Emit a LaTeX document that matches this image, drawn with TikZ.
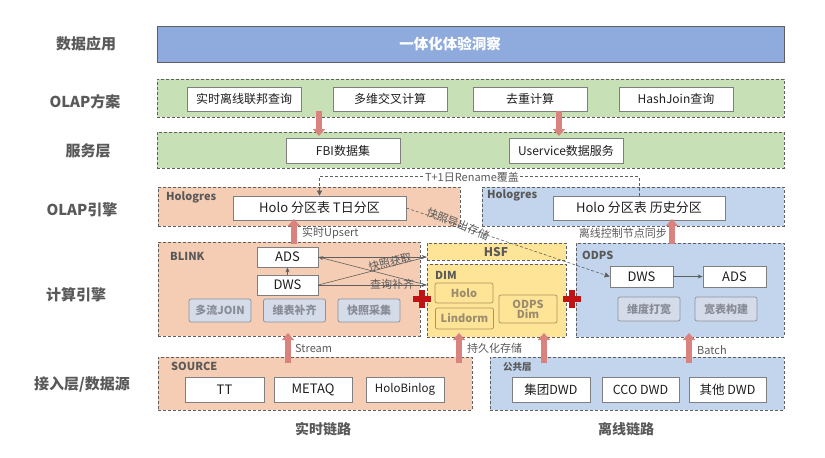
\documentclass[tikz,border=0pt]{standalone}
\usepackage{fontspec}
\setmainfont{Noto Sans CJK SC}
\usetikzlibrary{arrows.meta}
\definecolor{appblue}{RGB}{143,170,220}
\definecolor{bandgreen}{RGB}{200,224,182}
\definecolor{bandorange}{RGB}{245,205,180}
\definecolor{bandblue}{RGB}{194,213,236}
\definecolor{bandyellow}{RGB}{254,228,150}
\definecolor{dashgray}{RGB}{95,95,95}
\definecolor{boxgray}{RGB}{127,127,127}
\definecolor{labgray}{RGB}{89,89,89}
\definecolor{txtdark}{RGB}{30,30,30}
\definecolor{fatred}{RGB}{218,130,125}
\definecolor{plusred}{RGB}{192,20,20}
\definecolor{gfill}{RGB}{213,220,233}
\definecolor{gdraw}{RGB}{140,145,155}
\definecolor{gtext}{RGB}{135,140,150}
\definecolor{ydraw}{RGB}{175,145,95}
\definecolor{ytext}{RGB}{155,140,110}
\newcommand{\myfs}[1]{\fontsize{#1}{#1}\selectfont}
\begin{document}
\begin{tikzpicture}[x=1pt,y=-1pt,
  band/.style={draw=dashgray, dash pattern=on 3pt off 2pt, line width=0.8pt, inner sep=0pt},
  wbox/.style={draw=boxgray, fill=white, line width=0.7pt, inner sep=0pt, text=txtdark},
  gbox/.style={draw=gdraw, fill=gfill, rounded corners=2pt, line width=0.7pt, inner sep=0pt, text=gtext, font=\myfs{11}\bfseries},
  ybox/.style={draw=ydraw, fill=bandyellow, rounded corners=2pt, line width=0.7pt, inner sep=0pt, text=ytext, font=\myfs{11}\bfseries, align=center},
  leftlab/.style={text=labgray, font=\myfs{15}\bfseries},
  bandlab/.style={text=labgray, font=\myfs{11}\bfseries, anchor=west, inner sep=0pt},
  fat/.style={draw=fatred, line width=6pt, -{Triangle[width=12pt,length=7pt]}},
  thinarr/.style={draw=dashgray, line width=0.6pt, -{Stealth[length=5pt,width=4pt]}},
  dasharr/.style={draw=dashgray, line width=0.6pt, dash pattern=on 3pt off 2pt, -{Triangle[length=5pt,width=5pt]}},
  alab/.style={text=labgray, font=\myfs{11}, inner sep=1pt},
]
\useasboundingbox (0,0) rectangle (825,458);

% left labels
\node[leftlab] (l1) at (86,44) {数据应用};
\node[leftlab] (l2) at (85,102) {OLAP方案};
\node[leftlab] (l3) at (88,151) {服务层};
\node[leftlab] (l4) at (82,210) {OLAP引擎};
\node[leftlab] (l5) at (76,295) {计算引擎};
\node[leftlab] (l6) at (82,384) {接入层/数据源};

% application bar
\node[draw=dashgray, fill=appblue, line width=0.8pt, minimum width=627pt, minimum height=36pt, inner sep=0pt] (app) at (470.5,44) {};
\node[text=white, font=\myfs{14.5}\bfseries] (apptitle) at (450,44) {一体化体验洞察};

% OLAP scheme
\node[band, fill=bandgreen, minimum width=627pt, minimum height=38pt] (olap) at (470.5,98) {};
\node[wbox, minimum width=114pt, minimum height=24pt, font=\myfs{12}] (q1) at (244,99) {实时离线联邦查询};
\node[wbox, minimum width=114pt, minimum height=24pt, font=\myfs{12}] (q2) at (390,99) {多维交叉计算};
\node[wbox, minimum width=114pt, minimum height=24pt, font=\myfs{12}] (q3) at (530,99) {去重计算};
\node[wbox, minimum width=114pt, minimum height=24pt, font=\myfs{12}] (q4) at (676,99) {HashJoin查询};

% service layer
\node[band, fill=bandgreen, minimum width=627pt, minimum height=36pt] (svc) at (470.5,150) {};
\node[wbox, minimum width=114pt, minimum height=25pt, font=\myfs{12}] (fbi) at (343,150.5) {FBI数据集};
\node[wbox, minimum width=114pt, minimum height=25pt, font=\myfs{12}] (usvc) at (566,150.5) {Uservice数据服务};

% OLAP engine
\node[band, fill=bandorange, minimum width=302pt, minimum height=39pt] (holoL) at (309,206.5) {};
\node[band, fill=bandblue, minimum width=302pt, minimum height=39pt] (holoR) at (633,206.5) {};
\node[bandlab] (hlabL) at (166,197.5) {Hologres};
\node[bandlab] (hlabR) at (487,195.5) {Hologres};
\node[wbox, minimum width=173pt, minimum height=24pt, font=\myfs{13}] (tpart) at (319.5,208) {Holo 分区表 T日分区};
\node[wbox, minimum width=172pt, minimum height=24pt, font=\myfs{13}] (hpart) at (639,208) {Holo 分区表 历史分区};

% compute engine
\node[band, fill=bandorange, minimum width=262pt, minimum height=94pt] (blink) at (289,289) {};
\node[band, fill=bandyellow, minimum width=139pt, minimum height=17pt] (hsf) at (496.5,251.5) {};
\node[band, fill=bandyellow, minimum width=139pt, minimum height=73pt] (dim) at (496.5,300.5) {};
\node[band, fill=bandblue, minimum width=208pt, minimum height=94pt] (odps) at (680,290) {};
\node[bandlab] (blab) at (170,256) {BLINK};
\node[text=labgray, font=\myfs{12}\bfseries, inner sep=0pt] (hsflab) at (496,252) {HSF};
\node[bandlab] (dimlab) at (435,275) {DIM};
\node[bandlab] (odpslab) at (582,255) {ODPS};

\node[wbox, minimum width=61pt, minimum height=20pt, font=\myfs{13}] (ads1) at (287.5,257) {ADS};
\node[wbox, minimum width=61pt, minimum height=20pt, font=\myfs{13}] (dws1) at (287.5,285) {DWS};
\node[gbox, minimum width=62pt, minimum height=23pt] (g1) at (220,310.5) {多流JOIN};
\node[gbox, minimum width=62pt, minimum height=23pt] (g2) at (294.5,310.5) {维表补齐};
\node[gbox, minimum width=62pt, minimum height=23pt] (g3) at (369,310.5) {快照采集};

\node[ybox, minimum width=58pt, minimum height=20pt] (dholo) at (464,293) {Holo};
\node[ybox, minimum width=58pt, minimum height=21pt] (lindorm) at (464.5,318.5) {Lindorm};
\node[ybox, minimum width=58pt, minimum height=28pt, text width=56pt] (odim) at (528,309) {ODPS\\[-1pt]Dim};

\node[wbox, minimum width=63pt, minimum height=21pt, font=\myfs{13}] (dws2) at (641.5,276.5) {DWS};
\node[wbox, minimum width=63pt, minimum height=21pt, font=\myfs{13}] (ads2) at (734.5,276.5) {ADS};
\node[gbox, minimum width=62pt, minimum height=24pt] (o1) at (649,309) {维度打宽};
\node[gbox, minimum width=62pt, minimum height=24pt] (o2) at (726,309) {宽表构建};

% sources
\node[band, fill=bandorange, minimum width=314pt, minimum height=53pt] (source) at (315,383.5) {};
\node[band, fill=bandblue, minimum width=294pt, minimum height=53pt] (pub) at (637,383.5) {};
\node[bandlab] (srclab) at (171,366) {SOURCE};
\node[bandlab, font=\myfs{9.5}\bfseries] (publab) at (503,367) {公共层};
\node[wbox, minimum width=79pt, minimum height=25pt, font=\myfs{13}] (tt) at (224.5,389.5) {TT};
\node[wbox, minimum width=78pt, minimum height=25pt, font=\myfs{13}] (metaq) at (313,389.5) {METAQ};
\node[wbox, minimum width=78pt, minimum height=25pt, font=\myfs{11.5}] (hbin) at (405,389.5) {HoloBinlog};
\node[wbox, minimum width=78pt, minimum height=25pt, font=\myfs{12.5}] (jt) at (551,389.5) {集团DWD};
\node[wbox, minimum width=77pt, minimum height=25pt, font=\myfs{12.5}] (cco) at (640.5,389.5) {CCO DWD};
\node[wbox, minimum width=77pt, minimum height=25pt, font=\myfs{12.5}] (qt) at (727.5,389.5) {其他 DWD};

\node[leftlab, font=\myfs{14}\bfseries] (rt) at (323,429) {实时链路};
\node[leftlab, font=\myfs{14}\bfseries] (off) at (626,429) {离线链路};

% thick arrows
\coordinate (a1s) at (319,111); \coordinate (a1e) at (319,136);
\coordinate (a2s) at (559,111); \coordinate (a2e) at (559,136);
\draw[fat] (a1s) -- (a1e);
\draw[fat] (a2s) -- (a2e);
\coordinate (ups) at (294,244); \coordinate (upe) at (294,219);
\coordinate (sys) at (672,244); \coordinate (sye) at (672,219);
\draw[fat] (ups) -- (upe);
\draw[fat] (sys) -- (sye);
\node[alab, anchor=west] (uplab) at (301,233) {实时Upsert};
\node[alab, anchor=east] (sylab) at (668,233) {离线控制节点同步};
\coordinate (sts) at (288,363); \coordinate (ste) at (288,333);
\coordinate (p1s) at (459,363); \coordinate (p1e) at (459,333);
\coordinate (p2s) at (544,363); \coordinate (p2e) at (544,333);
\coordinate (bas) at (689,363); \coordinate (bae) at (689,333);
\draw[fat] (sts) -- (ste);
\draw[fat] (p1s) -- (p1e);
\draw[fat] (p2s) -- (p2e);
\draw[fat] (bas) -- (bae);
\node[alab, anchor=west] (stlab) at (294,348) {Stream};
\node[alab, anchor=west] (pslab) at (466,348) {持久化存储};
\node[alab, anchor=west] (balab) at (696,350) {Batch};

% thin arrows in compute row
\draw[thinarr] (dws1.north) -- (ads1.south);
\draw[thinarr] (ads1.east) -- (ads1.east -| hsf.west);
\draw[thinarr] (dws1.east) -- (dws1.east -| dim.west);
\draw[draw=dashgray, line width=0.6pt] (dws1.east) -- (ads1.east -| hsf.west);
\draw[thinarr] (dws1.east -| dim.west) -- (ads1.east);
\node[alab, rotate=15] (snapget) at (390,262) {快照获取};
\node[alab] (qfill) at (392,284.5) {查询补齐};
\draw[thinarr] (dws2) -- (ads2);

% dashed arrows
\draw[dasharr] (hpart.north) -- ++(0,-19) -| (tpart.north);
\node[alab, fill=white] (t1lab) at (472,177) {T+1日Rename覆盖};
\draw[dasharr] (tpart.east) -- (dws2.west);
\node[alab, rotate=-22] (snapexp) at (458,224) {快照导出存储};

% red plus signs
\fill[plusred] (413,295.5) rectangle (431,301.5);
\fill[plusred] (419,289.5) rectangle (425,307.5);
\fill[plusred] (563,295.5) rectangle (581,301.5);
\fill[plusred] (569,289.5) rectangle (575,307.5);
\end{tikzpicture}
\end{document}
